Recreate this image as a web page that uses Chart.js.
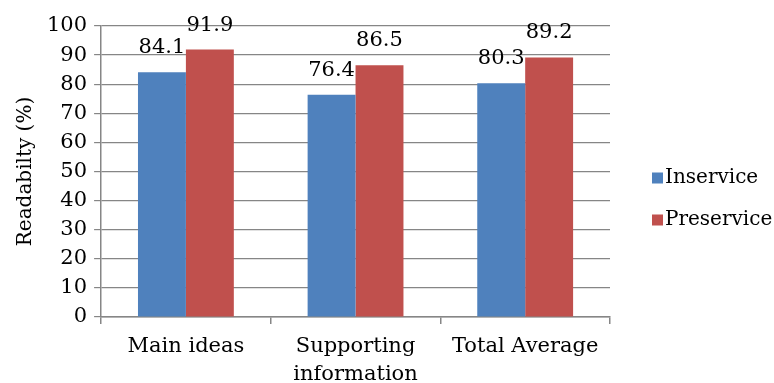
<!DOCTYPE html>
<html>
<head>
<meta charset="utf-8">
<script src="https://cdn.jsdelivr.net/npm/chart.js@4/dist/chart.umd.min.js"></script>
<style>
  html, body { margin: 0; padding: 0; background: #fff; }
  #wrap { width: 774px; height: 383px; }
</style>
</head>
<body>
<div id="wrap"><canvas id="myChart"></canvas></div>
<script>
// data
const categories = ['Main ideas', ['Supporting', 'information'], 'Total Average'];
const inservice = [84.1, 76.4, 80.3];
const preservice = [91.9, 86.5, 89.2];
const yTicks = [0, 10, 20, 30, 40, 50, 60, 70, 80, 90, 100];

const FONT = 'DejaVu Serif';
const FSIZE = 21;

// value labels over each bar
const barLabels = {
  id: 'barLabels',
  afterDatasetsDraw(chart) {
    const c = chart.ctx;
    c.save();
    c.font = FSIZE + 'px "' + FONT + '"';
    c.fillStyle = '#000';
    c.textAlign = 'center';
    c.textBaseline = 'alphabetic';
    chart.data.datasets.forEach((ds, i) => {
      chart.getDatasetMeta(i).data.forEach((bar, j) => {
        c.fillText(ds.data[j].toFixed(1), bar.x, bar.y - 19);
      });
    });
    c.restore();
  }
};

// legend on the right, small squares close to the text
const sideLegend = {
  id: 'sideLegend',
  afterDraw(chart) {
    const c = chart.ctx;
    const x = chart.chartArea.right + 42;
    const yMid = (chart.chartArea.top + chart.chartArea.bottom) / 2 + 27;
    c.save();
    c.font = '20px "' + FONT + '"';
    c.textBaseline = 'middle';
    c.textAlign = 'left';
    chart.data.datasets.forEach((ds, i) => {
      const y = yMid + (i - 0.5) * 42;
      c.fillStyle = ds.backgroundColor;
      c.fillRect(x, y - 5, 11, 11);
      c.fillStyle = '#000';
      c.fillText(ds.label, x + 13, y);
    });
    c.restore();
  }
};

new Chart(document.getElementById('myChart'), {
  type: 'bar',
  data: {
    labels: categories,
    datasets: [
      { label: 'Inservice', data: inservice, backgroundColor: '#4F81BD', borderWidth: 0 },
      { label: 'Preservice', data: preservice, backgroundColor: '#C0504D', borderWidth: 0 }
    ]
  },
  options: {
    responsive: true,
    maintainAspectRatio: false,
    animation: false,
    events: [],
    layout: { padding: { top: 26, left: 12, right: 164, bottom: 0 } },
    datasets: { bar: { categoryPercentage: 0.565, barPercentage: 1.0 } },
    plugins: {
      legend: { display: false },
      tooltip: { enabled: false }
    },
    scales: {
      x: {
        afterFit: (axis) => { axis.height = 66; },
        grid: { drawOnChartArea: false, color: '#868686', tickLength: 7, offset: true, lineWidth: 1.5 },
        border: { color: '#868686', width: 1.5 },
        ticks: { font: { family: FONT, size: FSIZE, lineHeight: 1.35 }, color: '#000', maxRotation: 0, padding: 8 }
      },
      y: {
        min: 0,
        max: 100,
        afterBuildTicks: (axis) => { axis.ticks = yTicks.map(v => ({ value: v })); },
        grid: { color: '#868686', lineWidth: 1.2, tickLength: 7 },
        border: { color: '#868686', width: 1.5 },
        ticks: { font: { family: FONT, size: FSIZE }, color: '#000', padding: 7 },
        title: { display: true, text: 'Readabilty (%)', font: { family: FONT, size: 20 }, color: '#000', padding: 2 }
      }
    }
  },
  plugins: [barLabels, sideLegend]
});
</script>
</body>
</html>
